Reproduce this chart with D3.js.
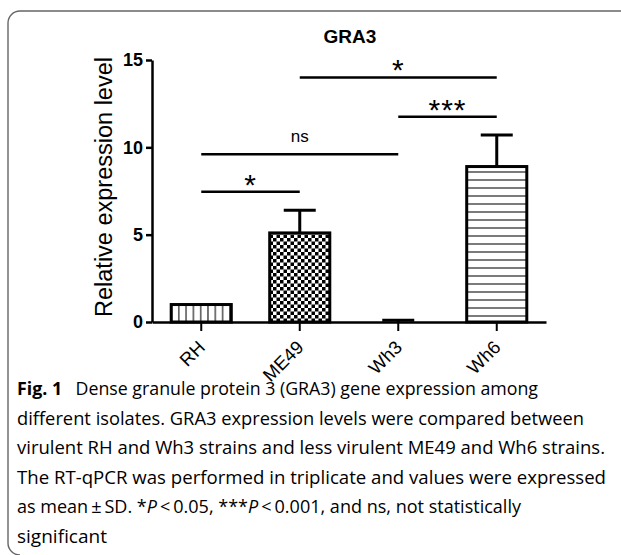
<!DOCTYPE html>
<html>
<head>
<meta charset="utf-8">
<script src="https://d3js.org/d3.v7.min.js"></script>
<style>
  body { margin: 0; background: #fff; }
  svg { display: block; }
</style>
</head>
<body>
<div id="js-chart"></div>
<script>
//  Chart data
var strains = ["RH", "ME49", "Wh3", "Wh6"];
var means   = [1.0, 5.1, 0.0, 8.9];
var sds     = [0.0, 1.3, 0.1, 1.8];
var patterns = ["vlines", "checker", "none", "hlines"];

var yTicks = [0, 5, 10, 15];

//  Significance brackets
var compFrom  = ["RH", "RH", "ME49", "Wh3"];
var compTo    = ["ME49", "Wh3", "Wh6", "Wh6"];
var compLevel = [7.45, 9.6, 14.0, 11.75];
var compLabel = ["*", "ns", "*", "***"];

var captionLines = [
  "different isolates. GRA3 expression levels were compared between",
  "virulent RH and Wh3 strains and less virulent ME49 and Wh6 strains.",
  "The RT-qPCR was performed in triplicate and values were expressed"
];

// ---------------------------------------------------------------------------------- //

var svg = d3.select("#js-chart")
  .append("svg")
  .attr("width", 621)
  .attr("height", 555);

var defs = svg.append("defs");

// vertical stripes (RH)
var pv = defs.append("pattern")
  .attr("id", "vlines")
  .attr("patternUnits", "userSpaceOnUse")
  .attr("width", 7.3).attr("height", 10);
pv.append("rect").attr("width", 7.3).attr("height", 10).attr("fill", "#fff");
pv.append("line")
  .attr("x1", 3.6).attr("x2", 3.6).attr("y1", 0).attr("y2", 10)
  .attr("stroke", "#222").attr("stroke-width", 1.2);

// checkerboard (ME49)
var pc = defs.append("pattern")
  .attr("id", "checker")
  .attr("patternUnits", "userSpaceOnUse")
  .attr("width", 7).attr("height", 7);
pc.append("rect").attr("width", 7).attr("height", 7).attr("fill", "#fff");
pc.append("rect").attr("width", 3.5).attr("height", 3.5).attr("fill", "#000");
pc.append("rect").attr("x", 3.5).attr("y", 3.5).attr("width", 3.5).attr("height", 3.5).attr("fill", "#000");

// horizontal stripes (Wh6)
var ph = defs.append("pattern")
  .attr("id", "hlines")
  .attr("patternUnits", "userSpaceOnUse")
  .attr("width", 10).attr("height", 8);
ph.append("rect").attr("width", 10).attr("height", 8).attr("fill", "#fff");
ph.append("line")
  .attr("x1", 0).attr("x2", 10).attr("y1", 4).attr("y2", 4)
  .attr("stroke", "#222").attr("stroke-width", 1.2);

//  Frame around the figure
svg.append("path")
  .attr("d", "M621,11 H20 A12,12 0 0 0 8,23 V543 A12,12 0 0 0 20,555")
  .attr("fill", "none")
  .attr("stroke", "#666")
  .attr("stroke-width", 1.4);

// ---------------------------------------------------------------------------------- //
//  Scales

var x = d3.scaleBand()
  .domain(strains)
  .range([152, 546])
  .paddingInner(0.39)
  .paddingOuter(0.195);

var y = d3.scaleLinear()
  .domain([0, 15])
  .range([322, 60]);

var cx = function(d) { return x(d) + x.bandwidth() / 2; };

//  Title
svg.append("text")
  .attr("x", 350)
  .attr("y", 43)
  .attr("text-anchor", "middle")
  .style("font-family", "Liberation Sans, Arial, sans-serif")
  .style("font-weight", "bold")
  .style("font-size", "19px")
  .text("GRA3");

//  Bars
svg.selectAll(".bar")
  .data(strains)
  .enter()
  .append("rect")
  .attr("class", "bar")
  .attr("x", function(d) { return x(d); })
  .attr("y", function(d, i) { return y(means[i]); })
  .attr("width", x.bandwidth())
  .attr("height", function(d, i) { return y(0) - y(means[i]); })
  .attr("fill", function(d, i) { return patterns[i] === "none" ? "#fff" : "url(#" + patterns[i] + ")"; })
  .attr("stroke", "#000")
  .attr("stroke-width", 3);

//  Error bars (upper half only)
var err = svg.selectAll(".err")
  .data(strains)
  .enter()
  .append("g")
  .attr("class", "err")
  .filter(function(d, i) { return sds[i] > 0; });

err.append("line")
  .attr("x1", cx).attr("x2", cx)
  .attr("y1", function(d) { var i = strains.indexOf(d); return y(means[i]); })
  .attr("y2", function(d) { var i = strains.indexOf(d); return y(means[i] + sds[i]); })
  .attr("stroke", "#000").attr("stroke-width", 3);

err.append("line")
  .attr("x1", function(d) { return cx(d) - 16; })
  .attr("x2", function(d) { return cx(d) + 16; })
  .attr("y1", function(d) { var i = strains.indexOf(d); return y(means[i] + sds[i]); })
  .attr("y2", function(d) { var i = strains.indexOf(d); return y(means[i] + sds[i]); })
  .attr("stroke", "#000").attr("stroke-width", 3);

// ---------------------------------------------------------------------------------- //
//  Axes

var yAxis = svg.append("g")
  .attr("transform", "translate(152,0)")
  .call(d3.axisLeft(y).tickValues(yTicks).tickSize(6).tickSizeOuter(0).tickPadding(3));

yAxis.select(".domain").attr("stroke-width", 2.5);
yAxis.selectAll(".tick line").attr("stroke-width", 2.5);
yAxis.selectAll(".tick text")
  .style("font-family", "Liberation Sans, Arial, sans-serif")
  .style("font-weight", "bold")
  .style("font-size", "18px")
  .attr("fill", "#000");

var xAxis = svg.append("g")
  .attr("transform", "translate(0,322)")
  .call(d3.axisBottom(x).tickSize(9).tickSizeOuter(0));

xAxis.select(".domain").attr("stroke-width", 2.5);
xAxis.selectAll(".tick line").attr("stroke-width", 2);
xAxis.selectAll(".tick text")
  .style("font-family", "Liberation Sans, Arial, sans-serif")
  .style("font-size", "18.5px")
  .attr("fill", "#000")
  .attr("text-anchor", "end")
  .attr("dy", null)
  .attr("transform", "translate(5,26.5) rotate(-45)")
  .attr("y", 0);

//  Y label
svg.append("text")
  .attr("transform", "translate(112,187) rotate(-90)")
  .attr("text-anchor", "middle")
  .style("font-family", "Liberation Sans, Arial, sans-serif")
  .style("font-size", "23.5px")
  .text("Relative expression level");

// ---------------------------------------------------------------------------------- //
//  Significance brackets

compLabel.forEach(function(lab, i) {
  var x1 = cx(compFrom[i]);
  var x2 = cx(compTo[i]);
  var ly = y(compLevel[i]);

  svg.append("line")
    .attr("x1", x1).attr("x2", x2)
    .attr("y1", ly).attr("y2", ly)
    .attr("stroke", "#000")
    .attr("stroke-width", 2.5);

  var isStar = lab.indexOf("*") >= 0;
  svg.append("text")
    .attr("x", (x1 + x2) / 2)
    .attr("y", isStar ? ly + 3 : ly - 12)
    .attr("text-anchor", "middle")
    .style("font-family", "Liberation Sans, Arial, sans-serif")
    .style("font-size", isStar ? "30px" : "17px")
    .style("letter-spacing", isStar ? "1px" : null)
    .text(lab);
});

// ---------------------------------------------------------------------------------- //
//  Caption

var capFont = "Open Sans, Noto Sans, sans-serif";

var cap1 = svg.append("text")
  .attr("x", 17).attr("y", 395)
  .attr("textLength", 521).attr("lengthAdjust", "spacingAndGlyphs")
  .style("font-family", capFont).style("font-size", "17.5px");
cap1.append("tspan").style("font-weight", "bold").text("Fig. 1");
cap1.append("tspan").text("\u2002 Dense granule protein 3 (GRA3) gene expression among");

var capWidths = [567, 588, 589];
captionLines.forEach(function(t, i) {
  svg.append("text")
    .attr("x", 17).attr("y", 424.5 + i * 29.5)
    .attr("textLength", capWidths[i]).attr("lengthAdjust", "spacingAndGlyphs")
    .style("font-family", capFont).style("font-size", "17.5px")
    .text(t);
});

var cap5 = svg.append("text")
  .attr("x", 17).attr("y", 513)
  .attr("textLength", 504).attr("lengthAdjust", "spacingAndGlyphs")
  .style("font-family", capFont).style("font-size", "17.5px");
cap5.append("tspan").text("as mean\u2009\u00B1\u2009SD. *");
cap5.append("tspan").style("font-style", "italic").text("P");
cap5.append("tspan").text("\u2009<\u20090.05, ***");
cap5.append("tspan").style("font-style", "italic").text("P");
cap5.append("tspan").text("\u2009<\u20090.001, and ns, not statistically");

svg.append("text")
  .attr("x", 17).attr("y", 542.5)
  .attr("textLength", 90).attr("lengthAdjust", "spacingAndGlyphs")
  .style("font-family", capFont).style("font-size", "17.5px")
  .text("significant");
</script>
</body>
</html>
